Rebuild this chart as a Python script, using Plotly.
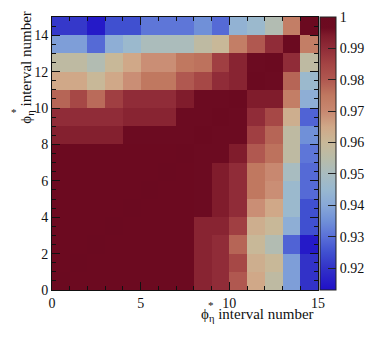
import plotly.graph_objects as go

# bin centres of the phi*_eta intervals
x_bins = [i + 0.5 for i in range(15)]
y_bins = [i + 0.5 for i in range(15)]

# correlation matrix, one row per y interval (row 0 = bottom)
r0 = [1.000, .999, .999, .999, .999, .999, .999, .999, .992, .990, .980, .965, .957, .938, .920]
r1 = [.999, 1.000, .999, .999, .999, .999, .999, .999, .992, .990, .984, .963, .960, .938, .920]
r2 = [.999, .999, 1.000, .999, .999, .999, .999, .999, .992, .990, .978, .960, .953, .928, .915]
r3 = [.999, .999, .999, 1.000, .999, .999, .999, .999, .992, .992, .986, .963, .960, .942, .925]
r4 = [.999, .999, .999, .999, 1.000, .999, .999, .999, .998, .994, .990, .969, .965, .946, .925]
r5 = [.999, .999, .999, .999, .999, 1.000, .999, .999, .998, .994, .990, .975, .969, .946, .929]
r6 = [.999, .999, .999, .999, .999, .999, 1.000, .999, .998, .994, .990, .975, .970, .950, .929]
r7 = [.999, .999, .999, .999, .999, .999, .999, 1.000, .998, .998, .994, .980, .976, .957, .931]
r8 = [.993, .993, .993, .993, .998, .998, .998, .998, 1.000, .998, .998, .986, .978, .957, .935]
r9 = [.990, .990, .990, .990, .992, .992, .992, .998, .998, 1.000, .998, .990, .984, .963, .928]
r10 = [.978, .984, .977, .986, .990, .990, .990, .994, .998, .998, 1.000, .994, .994, .973, .942]
r11 = [.965, .965, .960, .965, .969, .975, .975, .980, .984, .990, .992, 1.000, .998, .978, .946]
r12 = [.957, .957, .953, .960, .965, .969, .969, .975, .976, .986, .992, .998, 1.000, .990, .957]
r13 = [.938, .938, .929, .942, .946, .951, .951, .951, .957, .960, .973, .980, .990, 1.000, .973]
r14 = [.921, .921, .915, .925, .925, .931, .931, .931, .935, .929, .943, .946, .953, .973, 1.000]
corr = [r0, r1, r2, r3, r4, r5, r6, r7, r8, r9, r10, r11, r12, r13, r14]

cbar_ticks = [0.92, 0.93, 0.94, 0.95, 0.96, 0.97, 0.98, 0.99, 1.0]
cbar_text = ['0.92', '0.93', '0.94', '0.95', '0.96', '0.97', '0.98', '0.99', '1']

zmin, zmax = 0.913, 1.0
cs_vals = [0.913, 0.920, 0.925, 0.930, 0.935, 0.940, 0.945, 0.950, 0.955,
           0.960, 0.965, 0.970, 0.975, 0.980, 0.985, 0.990, 0.994, 0.9965, 1.000]
cs_cols = ['#2010c8', '#3232c8', '#4050d0', '#5a70d8', '#7090d8', '#88a8d8',
           '#98b8d0', '#a8bcc0', '#b8bca8', '#c8b898', '#d0a888', '#c88870',
           '#c07860', '#b05850', '#a44444', '#902c38', '#801c2c', '#6d0b21', '#6b0a20']
colorscale = [[(v - zmin) / (zmax - zmin), c] for v, c in zip(cs_vals, cs_cols)]

serif = 'Liberation Serif, Times New Roman, serif'

fig = go.Figure(go.Heatmap(
    x=x_bins, y=y_bins, z=corr,
    zmin=zmin, zmax=zmax, colorscale=colorscale,
    colorbar=dict(x=1.0075, xanchor='left', xpad=0, ypad=0, y=0.5, len=1,
                  thickness=16, outlinewidth=1, outlinecolor='#222',
                  tickvals=cbar_ticks, ticktext=cbar_text,
                  ticks='inside', ticklen=8, tickcolor='#222',
                  tickfont=dict(family=serif, size=14, color='#111')),
))

# page body has an 8px margin, so the figure is a bit smaller than the window
fig.update_layout(
    width=366, height=338,
    margin=dict(l=44, r=56, t=9, b=56, autoexpand=False),
    plot_bgcolor='white', paper_bgcolor='white',
    font=dict(family=serif, size=14, color='#111'),
)
fig.update_xaxes(range=[0, 15], tickvals=[0, 5, 10, 15], ticks='inside', ticklen=8,
                 tickcolor='#111', showline=True, linecolor='#111', linewidth=1,
                 mirror='ticks', showgrid=False, zeroline=False,
                 minor=dict(dtick=1, ticks='inside', ticklen=4, tickcolor='#111'))
fig.update_yaxes(range=[0, 15], tickvals=[0, 2, 4, 6, 8, 10, 12, 14], ticks='inside', ticklen=8,
                 tickcolor='#111', showline=True, linecolor='#111', linewidth=1,
                 mirror='ticks', showgrid=False, zeroline=False,
                 minor=dict(dtick=0.5, ticks='inside', ticklen=4, tickcolor='#111'))

# axis titles, ROOT style (right / top aligned)
fig.add_annotation(text='ϕ<sub>η</sub> interval number', xref='paper', yref='paper',
                   x=0.994, y=-0.092, xanchor='right', yanchor='middle', showarrow=False,
                   font=dict(family=serif, size=15))
fig.add_annotation(text='*', xref='paper', yref='paper', x=0.598, y=-0.055,
                   xanchor='center', yanchor='middle', showarrow=False,
                   font=dict(family=serif, size=11))
fig.add_annotation(text='ϕ<sub>η</sub> interval number', xref='paper', yref='paper',
                   x=-0.095, y=0.817, xanchor='center', yanchor='middle', showarrow=False,
                   textangle=-90, font=dict(family=serif, size=15))
fig.add_annotation(text='*', xref='paper', yref='paper', x=-0.143, y=0.652,
                   xanchor='center', yanchor='middle', showarrow=False,
                   font=dict(family=serif, size=11))

fig.write_html("out.html")
